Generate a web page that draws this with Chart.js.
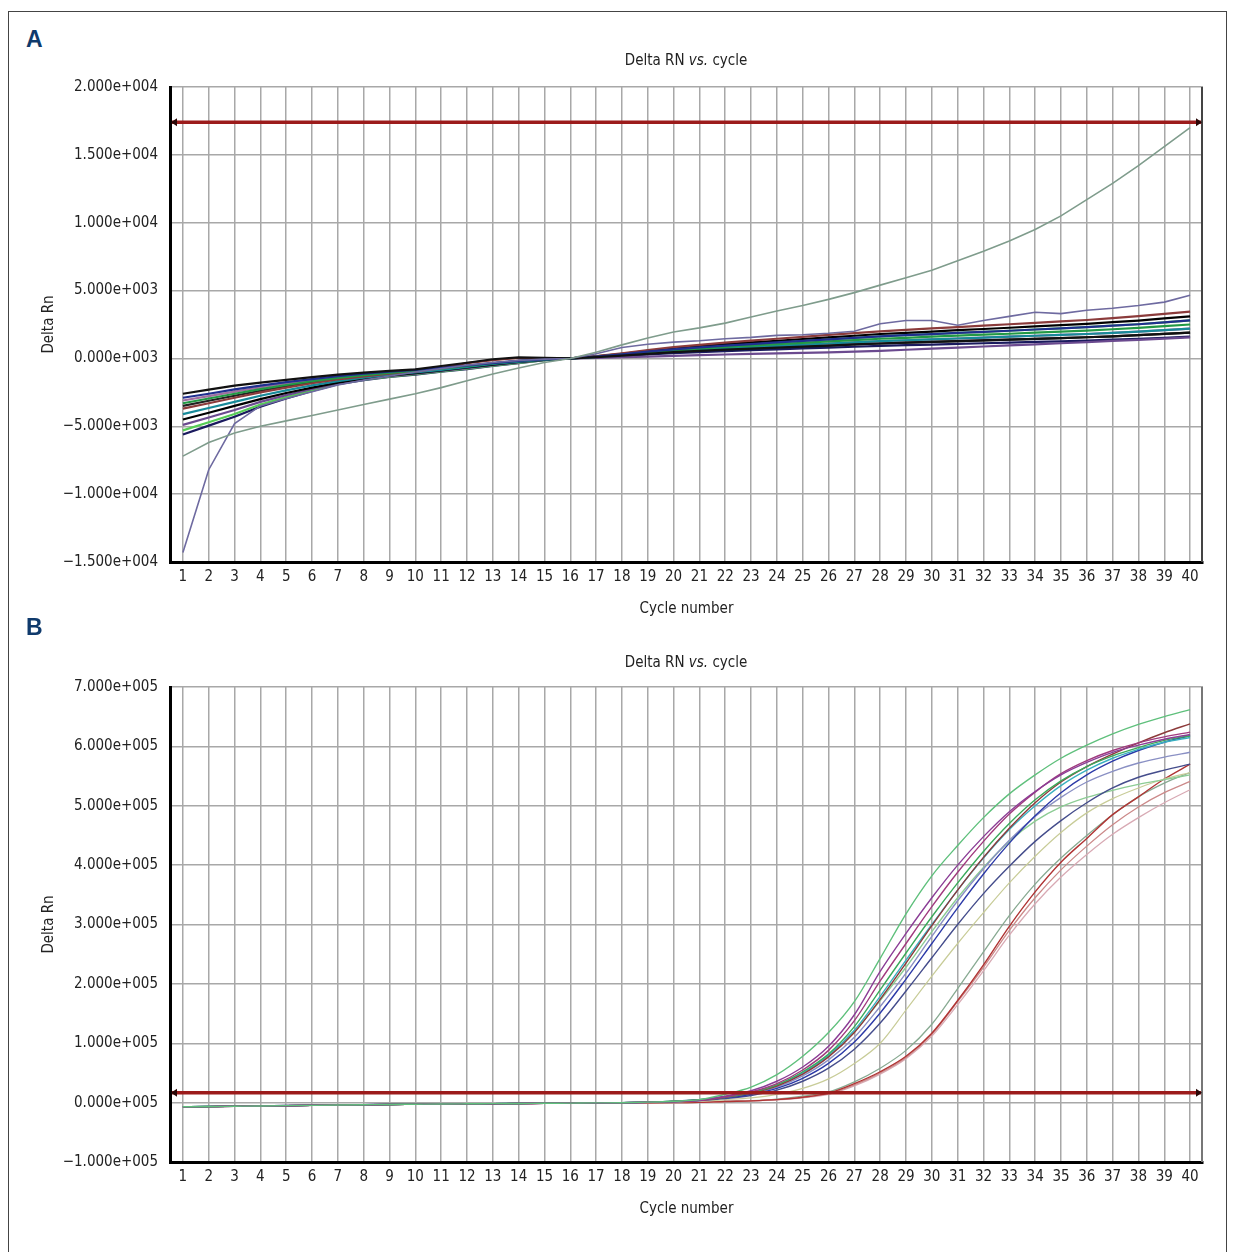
<!DOCTYPE html>
<html><head><meta charset="utf-8">
<script src="https://cdn.jsdelivr.net/npm/chart.js@4.4.0/dist/chart.umd.min.js"></script>
<style>
html,body{margin:0;padding:0;background:#fff;}
body{width:1235px;height:1252px;position:relative;overflow:hidden;font-family:"Liberation Sans Narrow","DejaVu Sans Condensed","Liberation Sans",sans-serif;}
#frame{position:absolute;left:8px;top:11px;width:1219px;height:1260px;border:1px solid #444;box-sizing:border-box;}
.panel{position:absolute;left:26px;font:bold 23px "Liberation Sans","DejaVu Sans",sans-serif;color:#0f3a6c;z-index:3;}
.title{position:absolute;left:586px;width:200px;text-align:center;font-size:15px;line-height:20px;color:#222;z-index:3;}
canvas{position:absolute;left:0;z-index:1;}
</style>
</head><body>
<div id="frame"></div>
<div class="panel" style="top:26px">A</div>
<div class="panel" style="top:614px">B</div>
<div class="title" style="top:50px">Delta RN <i>vs.</i> cycle</div>
<div class="title" style="top:652px">Delta RN <i>vs.</i> cycle</div>
<canvas id="chartA" width="1235" height="564" style="top:66px"></canvas>
<canvas id="chartB" width="1235" height="564" style="top:666px"></canvas>
<script>
// ---------- shared ----------
const cycles = [1,2,3,4,5,6,7,8,9,10,11,12,13,14,15,16,17,18,19,20,21,22,23,24,25,26,27,28,29,30,31,32,33,34,35,36,37,38,39,40];
const xTitle = 'Cycle number';
const yTitle = 'Delta Rn';

// ---------- panel A ----------
const yTickValuesA = [-15000,-10000,-5000,0,5000,10000,15000,20000];
const yTickLabelsA = ['\u22121.500e+004','\u22121.000e+004','\u22125.000e+003','0.000e+003','5.000e+003','1.000e+004','1.500e+004','2.000e+004'];
const thresholdA = 17400;

const aExp     = [-7200,-6200,-5500,-5000,-4600,-4200,-3800,-3400,-3000,-2600,-2150,-1650,-1150,-700,-300,0,450,1000,1500,1950,2250,2600,3050,3500,3900,4350,4850,5400,5950,6500,7200,7900,8650,9500,10500,11700,12900,14200,15600,17000];
const aOutlier = [-14300,-8200,-4800,-3500,-2950,-2450,-1950,-1600,-1300,-1000,-750,-500,-300,-150,-50,0,350,800,1050,1200,1300,1450,1550,1700,1750,1850,2000,2550,2800,2800,2450,2800,3100,3400,3300,3550,3700,3900,4150,4650];
const aBunch1  = [-2600,-2300,-2000,-1780,-1580,-1380,-1200,-1050,-920,-800,-560,-320,-60,80,50,0,100,210,340,460,550,650,720,800,870,950,1030,1100,1160,1220,1270,1330,1390,1440,1500,1560,1630,1710,1810,1900];
const aBunch2  = [-2900,-2600,-2280,-2000,-1750,-1520,-1300,-1130,-980,-850,-700,-520,-340,-180,-70,0,140,310,500,670,810,950,1060,1180,1290,1400,1510,1620,1710,1790,1880,1960,2040,2130,2210,2300,2410,2520,2660,2800];
const aBunch3  = [-3300,-2950,-2600,-2260,-1960,-1680,-1430,-1230,-1060,-920,-760,-560,-360,-190,-70,0,120,280,450,600,720,850,950,1050,1150,1250,1350,1450,1520,1600,1680,1750,1820,1900,1980,2050,2150,2250,2380,2500];
const aBunch4  = [-3700,-3300,-2900,-2500,-2150,-1830,-1550,-1320,-1130,-980,-700,-350,-120,30,20,0,170,380,620,830,1000,1170,1310,1450,1590,1730,1860,2000,2100,2210,2310,2420,2520,2620,2730,2830,2970,3110,3280,3450];
const aBunch5  = [-4100,-3650,-3200,-2750,-2350,-1990,-1670,-1410,-1200,-1030,-840,-630,-410,-230,-90,0,110,240,400,530,640,750,840,920,1010,1100,1190,1280,1340,1410,1470,1540,1610,1670,1740,1800,1890,1980,2090,2200];
const aBunch6  = [-4500,-4000,-3500,-3000,-2550,-2150,-1780,-1490,-1260,-1080,-880,-670,-450,-260,-100,0,150,340,560,740,900,1050,1180,1300,1430,1550,1670,1800,1890,1980,2080,2170,2260,2360,2450,2540,2670,2790,2950,3100];
const aBunch7  = [-4900,-4350,-3800,-3200,-2700,-2250,-1840,-1530,-1300,-1120,-920,-720,-490,-300,-110,0,40,90,140,190,240,290,330,370,410,450,500,560,640,720,800,880,960,1040,1120,1200,1290,1370,1460,1550];
const aBunch8  = [-5300,-4700,-4100,-3400,-2850,-2350,-1880,-1570,-1340,-1160,-950,-760,-530,-330,-120,0,140,310,500,670,810,950,1060,1180,1290,1400,1510,1620,1710,1790,1880,1960,2040,2130,2210,2300,2410,2520,2660,2800];
const aBunch9  = [-5600,-4950,-4300,-3550,-2950,-2400,-1900,-1600,-1370,-1190,-970,-790,-550,-350,-130,0,80,180,290,380,460,540,610,670,740,800,860,930,980,1020,1070,1120,1170,1220,1260,1310,1380,1440,1520,1600];
const aBunch10 = [-3100,-2780,-2440,-2130,-1850,-1600,-1370,-1180,-1020,-880,-730,-540,-350,-180,-70,0,110,240,400,530,640,750,840,920,1010,1100,1190,1280,1340,1410,1470,1540,1610,1670,1740,1800,1890,1980,2090,2200];
const aBunch11 = [-3500,-3120,-2750,-2380,-2050,-1750,-1490,-1270,-1100,-950,-780,-575,-370,-195,-75,0,100,210,340,460,550,650,720,800,870,950,1030,1100,1160,1220,1270,1330,1390,1440,1500,1560,1630,1710,1810,1900];

const seriesA = [aExp, aOutlier, aBunch1, aBunch2, aBunch3, aBunch4, aBunch5, aBunch6, aBunch7, aBunch8, aBunch9, aBunch10, aBunch11];
const colorsA = ['#7f9c8c','#6e6aa0','#111111','#1f2f8f','#229944','#8b3b3b','#178a99','#000000','#6b4a8f','#55cc55','#1a1a5e','#a06fa0','#222222'];
const widthsA = [1.6,1.6,2.2,2.2,2.2,2.2,2.2,2.2,2.2,2.2,2.2,2.2,2.2];

// ---------- panel B ----------
const yTickValuesB = [-100000,0,100000,200000,300000,400000,500000,600000,700000];
const yTickLabelsB = ['\u22121.000e+005','0.000e+005','1.000e+005','2.000e+005','3.000e+005','4.000e+005','5.000e+005','6.000e+005','7.000e+005'];
const thresholdB = 16500;

const bGreen1   = [-7000,-6600,-6100,-5600,-5100,-4600,-4100,-3600,-3100,-2700,-2300,-2000,-1700,-1400,-1100,-800,-500,-100,800,2300,5000,14000,26000,47000,78000,118000,170000,243000,318000,382000,433000,480000,520000,552000,580000,602000,621000,637000,650000,662000];
const bPurple   = [-7300,-6800,-6300,-5700,-5200,-4700,-4200,-3700,-3200,-2800,-2400,-2100,-1800,-1500,-1200,-900,-600,-300,500,1800,4000,11000,20000,36000,60000,95000,148000,221000,285000,345000,400000,448000,490000,524000,552000,573000,590000,602000,612000,620000];
const bMagenta  = [-6800,-6400,-5900,-5400,-4900,-4400,-3900,-3400,-2900,-2500,-2200,-1900,-1600,-1300,-1000,-700,-400,-100,600,1600,3500,10000,18000,32000,55000,88000,138000,205000,268000,330000,388000,440000,486000,523000,554000,576000,593000,606000,616000,624000];
const bGreen2   = [-7000,-6600,-6100,-5600,-5100,-4600,-4100,-3600,-3100,-2700,-2300,-2000,-1700,-1400,-1100,-800,-500,-100,800,2300,5000,10000,17000,30000,52000,82000,128000,190000,252000,313000,370000,423000,470000,510000,542000,566000,584000,598000,610000,618000];
const bBrown    = [-7300,-6800,-6300,-5700,-5200,-4700,-4200,-3700,-3200,-2800,-2400,-2100,-1800,-1500,-1200,-900,-600,-300,500,1800,4000,9000,16000,28000,48000,77000,118000,174000,235000,298000,358000,413000,462000,505000,540000,566000,587000,606000,623000,638000];
const bTeal     = [-6800,-6400,-5900,-5400,-4900,-4400,-3900,-3400,-2900,-2500,-2200,-1900,-1600,-1300,-1000,-700,-400,-100,600,1600,3500,9000,16000,29000,50000,80000,122000,179000,240000,300000,358000,412000,460000,500000,534000,560000,580000,595000,607000,615000];
const bBlue     = [-7000,-6600,-6100,-5600,-5100,-4600,-4100,-3600,-3100,-2700,-2300,-2000,-1700,-1400,-1100,-800,-500,-100,800,2300,5000,8000,14000,24000,41000,66000,102000,151000,208000,268000,328000,385000,437000,483000,522000,552000,575000,593000,607000,618000];
const bSlate    = [-7300,-6800,-6300,-5700,-5200,-4700,-4200,-3700,-3200,-2800,-2400,-2100,-1800,-1500,-1200,-900,-600,-300,500,1800,4000,7000,12000,21000,36000,58000,90000,134000,188000,244000,300000,352000,398000,440000,475000,505000,530000,548000,560000,570000];
const bLightSlate=[-6800,-6400,-5900,-5400,-4900,-4400,-3900,-3400,-2900,-2500,-2200,-1900,-1600,-1300,-1000,-700,-400,-100,600,1600,3500,8000,15000,26000,45000,72000,110000,162000,218000,280000,340000,394000,442000,482000,514000,540000,558000,572000,582000,590000];
const bGreen3   = [-7000,-6600,-6100,-5600,-5100,-4600,-4100,-3600,-3100,-2700,-2300,-2000,-1700,-1400,-1100,-800,-500,-100,800,2300,5000,9000,17000,30000,50000,80000,120000,172000,228000,288000,345000,396000,440000,474000,498000,514000,526000,536000,544000,552000];
const bYellow   = [-7300,-6800,-6300,-5700,-5200,-4700,-4200,-3700,-3200,-2800,-2400,-2100,-1800,-1500,-1200,-900,-600,-300,300,1200,2500,5000,8000,14000,24000,40000,66000,100000,156000,213000,268000,320000,370000,415000,455000,488000,512000,530000,545000,556000];
const bRed      = [-7100,-6700,-6200,-5700,-5200,-4700,-4200,-3700,-3200,-2800,-2400,-2100,-1800,-1500,-1200,-900,-600,-400,-200,100,500,2000,3000,5000,9000,16000,32000,52000,78000,117000,172000,232000,297000,355000,405000,445000,485000,515000,545000,570000];
const bPink     = [-7100,-6700,-6200,-5700,-5200,-4700,-4200,-3700,-3200,-2800,-2400,-2100,-1800,-1500,-1200,-900,-600,-400,-200,100,500,2000,3000,5000,9000,15000,30000,50000,76000,115000,170000,228000,290000,345000,392000,432000,468000,498000,522000,541000];
const bLightPink= [-7100,-6700,-6200,-5700,-5200,-4700,-4200,-3700,-3200,-2800,-2400,-2100,-1800,-1500,-1200,-900,-600,-400,-200,100,500,2000,3000,4500,8000,14000,28000,48000,74000,112000,165000,222000,282000,335000,380000,418000,452000,480000,505000,527000];
const bGrayGreen= [-7100,-6700,-6200,-5700,-5200,-4700,-4200,-3700,-3200,-2800,-2400,-2100,-1800,-1500,-1200,-900,-600,-400,-200,100,500,2500,3500,6000,11000,18000,35000,58000,88000,132000,192000,254000,315000,368000,412000,450000,485000,515000,538000,556000];

const seriesB = [bGreen1,bPurple,bMagenta,bGreen2,bBrown,bTeal,bBlue,bSlate,bLightSlate,bGreen3,bYellow,bRed,bPink,bLightPink,bGrayGreen];
const colorsB = ['#5fc07c','#8b3d96','#a03a7e','#3aaa5a','#8c3a3a','#3ab0c0','#2c3aa8','#454d8c','#8a90c4','#8ccc94','#c8cc98','#b03434','#cc8a8a','#d8aab4','#88aa92'];
const widthsB = [1.4,1.4,1.4,1.4,1.4,1.4,1.4,1.4,1.4,1.4,1.2,1.4,1.3,1.3,1.3];

// ---------- drawing ----------
const FONT = "'Liberation Sans Narrow','DejaVu Sans Condensed','Liberation Sans',sans-serif";

const thresholdPlugin = {
  id: 'threshold',
  afterDatasetsDraw(chart, args, opts) {
    const {ctx, chartArea, scales} = chart;
    const {left, right, top, bottom} = chartArea;
    ctx.save();
    ctx.strokeStyle = opts.borderColor;
    ctx.lineWidth = 2;
    ctx.beginPath(); ctx.moveTo(right - 1, top); ctx.lineTo(right - 1, bottom); ctx.stroke();
    const py = scales.y.getPixelForValue(opts.value);
    ctx.strokeStyle = '#9c1c1c';
    ctx.lineWidth = 3.5;
    ctx.beginPath(); ctx.moveTo(left + 2, py); ctx.lineTo(right - 2, py); ctx.stroke();
    ctx.fillStyle = '#2a0808';
    ctx.beginPath(); ctx.moveTo(left + 1, py); ctx.lineTo(left + 7, py - 4); ctx.lineTo(left + 7, py + 4); ctx.closePath(); ctx.fill();
    ctx.beginPath(); ctx.moveTo(right - 1, py); ctx.lineTo(right - 7, py - 4); ctx.lineTo(right - 7, py + 4); ctx.closePath(); ctx.fill();
    ctx.restore();
  }
};

function makeChart(id, series, colors, widths, tickVals, tickLabels, threshold, smooth, rightBorder) {
  const datasets = series.map((d, i) => ({
    data: d,
    borderColor: colors[i],
    borderWidth: widths[i],
    pointRadius: 0,
    fill: false,
    tension: smooth ? 0.35 : 0,
    cubicInterpolationMode: smooth ? 'monotone' : 'default'
  }));
  return new Chart(document.getElementById(id), {
    type: 'line',
    data: { labels: cycles, datasets },
    options: {
      responsive: false,
      animation: false,
      devicePixelRatio: 1,
      layout: { padding: { top: 21, right: 32, left: 0, bottom: 0 } },
      plugins: {
        legend: { display: false },
        tooltip: { enabled: false },
        threshold: { value: threshold, borderColor: rightBorder }
      },
      scales: {
        x: {
          type: 'category',
          offset: true,
          grid: { color: '#a8a8a8', lineWidth: 1.5, offset: false, drawTicks: false },
          border: { color: '#000', width: 3 },
          ticks: { color: '#222', font: { family: FONT, size: 15, lineHeight: 1.2 }, padding: 6, autoSkip: false, maxRotation: 0 },
          title: { display: true, text: xTitle, color: '#222', font: { family: FONT, size: 15, lineHeight: 1.2 }, padding: { top: 0, bottom: 12 } },
          afterFit: s => { s.height = 68; }
        },
        y: {
          min: tickVals[0],
          max: tickVals[tickVals.length - 1],
          grid: { color: '#a8a8a8', lineWidth: 1.5, drawTicks: false },
          border: { color: '#000', width: 3 },
          afterBuildTicks: s => { s.ticks = tickVals.map(v => ({ value: v })); },
          ticks: {
            color: '#222', font: { family: FONT, size: 15, lineHeight: 1.2 }, padding: 12,
            callback: v => tickLabels[tickVals.indexOf(v)]
          },
          title: { display: true, text: yTitle, color: '#222', font: { family: FONT, size: 15, lineHeight: 1.2 }, padding: { top: 40, bottom: 0 } },
          afterFit: s => { s.width = 170; }
        }
      }
    },
    plugins: [thresholdPlugin]
  });
}

makeChart('chartA', seriesA, colorsA, widthsA, yTickValuesA, yTickLabelsA, thresholdA, false, '#444');
makeChart('chartB', seriesB, colorsB, widthsB, yTickValuesB, yTickLabelsB, thresholdB, true, '#777');
</script>
</body></html>
